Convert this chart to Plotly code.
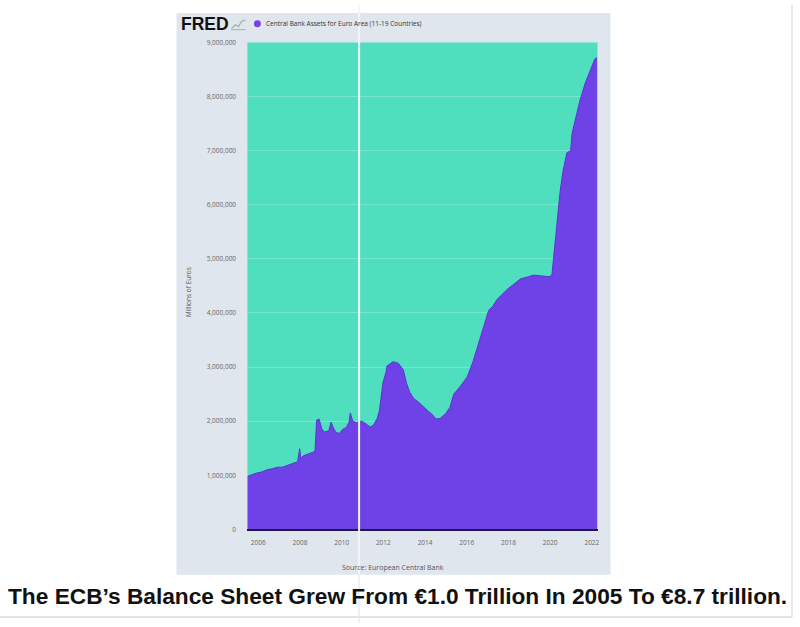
import plotly.graph_objects as go

# Central Bank Assets for Euro Area (millions of euros)
dates = [
    "2005-06-24", "2005-09-01", "2005-12-01", "2006-03-01", "2006-06-01", "2006-09-01",
    "2006-12-01", "2007-03-01", "2007-06-01", "2007-09-01", "2007-11-20", "2007-12-28",
    "2008-01-15", "2008-03-01", "2008-06-01", "2008-09-20", "2008-10-20", "2008-12-01",
    "2009-01-20", "2009-03-10", "2009-05-20", "2009-06-30", "2009-07-30", "2009-09-15",
    "2009-11-20", "2010-01-20", "2010-03-20", "2010-05-10", "2010-06-01", "2010-07-15",
    "2010-09-15", "2010-12-20", "2011-02-15", "2011-05-15", "2011-07-15", "2011-09-15",
    "2011-10-25", "2011-12-25", "2012-02-15", "2012-03-05", "2012-06-20", "2012-09-20",
    "2012-12-15", "2013-02-10", "2013-04-10", "2013-06-15", "2013-09-10", "2013-12-15",
    "2014-02-20", "2014-05-10", "2014-07-10", "2014-09-20", "2014-12-20", "2015-03-10",
    "2015-05-20", "2015-09-15", "2016-01-10", "2016-04-20", "2016-08-10", "2017-01-20",
    "2017-03-30", "2017-06-15", "2017-12-15", "2018-08-01", "2018-12-15", "2019-03-15",
    "2019-06-15", "2019-09-15", "2019-12-15", "2020-02-01", "2020-03-20", "2020-05-01",
    "2020-06-25", "2020-08-10", "2020-10-20", "2020-12-25", "2021-01-20", "2021-03-15",
    "2021-06-05", "2021-09-01", "2021-11-25", "2022-02-20", "2022-04-01",
]
assets = [
    980000, 1010000, 1040000, 1060000, 1100000, 1120000,
    1150000, 1150000, 1190000, 1220000, 1250000, 1490000,
    1310000, 1360000, 1400000, 1440000, 2020000, 2040000,
    1850000, 1800000, 1820000, 1980000, 1900000, 1800000,
    1770000, 1850000, 1880000, 1980000, 2150000, 2000000,
    1970000, 2000000, 1960000, 1890000, 1930000, 2050000,
    2200000, 2710000, 2900000, 3020000, 3100000, 3070000,
    2950000, 2700000, 2530000, 2420000, 2350000, 2250000,
    2190000, 2120000, 2040000, 2050000, 2130000, 2250000,
    2500000, 2650000, 2820000, 3100000, 3500000, 4050000,
    4120000, 4250000, 4440000, 4630000, 4670000, 4700000,
    4690000, 4680000, 4670000, 4700000, 5200000, 5700000,
    6250000, 6600000, 6960000, 7000000, 7320000, 7560000,
    7920000, 8230000, 8470000, 8690000, 8720000,
]
y_ticks = list(range(0, 9000001, 1000000))
x_ticks = ["%d-01-01" % y for y in range(2006, 2023, 2)]
x_labels = [str(y) for y in range(2006, 2023, 2)]

W, H = 800, 627
def px(x):
    return x / W
def py(y):
    return 1 - y / H

TEAL = "#50dfbe"
PURPLE = "#6f42e8"
BOX = "#dfe6ee"
TICK_FONT = dict(family="Open Sans", size=6.5, color="#666666")

fig = go.Figure()
fig.add_trace(go.Scatter(
    x=dates, y=assets, mode="lines", fill="tozeroy",
    fillcolor=PURPLE, line=dict(color="#5a34cf", width=1),
    showlegend=False, hoverinfo="skip",
))

shapes = [
    # FRED panel background
    dict(type="rect", xref="paper", yref="paper", x0=px(177), x1=px(612), y0=py(578), y1=py(8),
         fillcolor=BOX, line=dict(width=0), layer="below"),
    # plot area background
    dict(type="rect", xref="paper", yref="paper", x0=px(248), x1=px(599), y0=py(532), y1=py(38),
         fillcolor=TEAL, line=dict(width=0), layer="below"),
    # outer faint border right and bottom
    dict(type="line", xref="paper", yref="paper", x0=px(0), x1=px(794), y0=py(621), y1=py(621),
         line=dict(color="#e4e4e4", width=2)),
    dict(type="line", xref="paper", yref="paper", x0=px(794), x1=px(794), y0=py(0), y1=py(621),
         line=dict(color="#e8e8e8", width=2)),
    # vertical separator line across the image
    dict(type="line", xref="paper", yref="paper", x0=px(360), x1=px(360), y0=py(578), y1=py(0),
         line=dict(color="#f4f4f8", width=2), layer="above"),
    dict(type="line", xref="paper", yref="paper", x0=px(360), x1=px(360), y0=py(627), y1=py(578),
         line=dict(color="#e2e2e2", width=1), layer="above"),
    # legend marker
    dict(type="circle", xref="paper", yref="paper", x0=px(254.5), x1=px(261.5), y0=py(22.5), y1=py(15.5),
         fillcolor="#7a3fe6", line=dict(width=0)),
    # small FRED chart icon
    dict(type="path", xref="paper", yref="paper",
         path="M %f %f L %f %f L %f %f L %f %f L %f %f" % (
             px(232), py(24), px(236), py(20), px(239), py(22), px(242), py(17), px(246), py(15)),
         line=dict(color="#9fb59f", width=1.2)),
    dict(type="line", xref="paper", yref="paper", x0=px(232), x1=px(246), y0=py(25), y1=py(25),
         line=dict(color="#9fb59f", width=1)),
]

annotations = [
    dict(text="<b>FRED</b>", x=px(206), y=py(19.5), xref="paper", yref="paper", showarrow=False,
         font=dict(family="Liberation Sans", size=17.5, color="#111111"), xanchor="center", yanchor="middle"),
    dict(text="Central Bank Assets for Euro Area (11-19 Countries)", x=px(265), y=py(19),
         xref="paper", yref="paper", showarrow=False, xanchor="left", yanchor="middle",
         font=dict(family="Open Sans", size=6.5, color="#333333")),
    dict(text="Millions of Euros", x=px(189), y=py(292), xref="paper", yref="paper", showarrow=False,
         textangle=-90, xanchor="center", yanchor="middle",
         font=dict(family="Open Sans", size=6.5, color="#555555")),
    dict(text="Source: European Central Bank", x=px(394), y=py(571), xref="paper", yref="paper",
         showarrow=False, xanchor="center", yanchor="middle",
         font=dict(family="Open Sans", size=7, color="#555555")),
    dict(text="<b>The ECB’s Balance Sheet Grew From €1.0 Trillion In 2005 To €8.7 trillion.</b>",
         x=px(398), y=py(600), xref="paper", yref="paper", showarrow=False,
         xanchor="center", yanchor="middle",
         font=dict(family="Liberation Sans", size=22.7, color="#111111")),
]

fig.update_layout(
    width=W, height=H,
    margin=dict(l=0, r=0, t=0, b=0),
    paper_bgcolor="white",
    plot_bgcolor=TEAL,
    shapes=shapes,
    annotations=annotations,
    xaxis=dict(
        domain=[px(248), px(599)], type="date",
        range=["2005-06-24", "2022-04-10"],
        tickvals=x_ticks, ticktext=x_labels,
        showgrid=False, zeroline=False,
        ticks="outside", ticklen=6, tickcolor="rgba(0,0,0,0)",
        tickfont=TICK_FONT,
        showline=True, linecolor="#1d1846", linewidth=2,
    ),
    yaxis=dict(
        domain=[py(532), py(38)],
        range=[0, 9000000],
        tickvals=y_ticks, tickformat=",d",
        showgrid=True, gridcolor="rgba(255,255,255,0.22)", gridwidth=1,
        zeroline=False, layer="above traces",
        ticks="outside", ticklen=9, tickcolor="rgba(0,0,0,0)",
        tickfont=TICK_FONT,
    ),
)

fig.write_html("out.html")
